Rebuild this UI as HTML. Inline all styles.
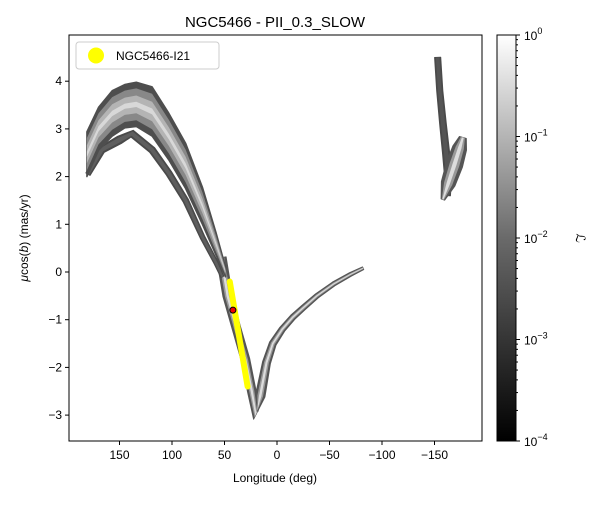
<!DOCTYPE html>
<html><head><meta charset="utf-8"><style>
body{margin:0;background:#fff;font-family:"Liberation Sans",sans-serif}
text{font-family:"Liberation Sans","DejaVu Sans",sans-serif;fill:#000}
</style></head><body>
<svg id="chart" width="600" height="500">
<defs>
<linearGradient id="cb" x1="0" y1="1" x2="0" y2="0">
<stop offset="0" stop-color="#000"/><stop offset="0.5" stop-color="#6a6a6a"/><stop offset="1" stop-color="#fff"/>
</linearGradient>
<clipPath id="pc"><rect x="69" y="35" width="413" height="406"/></clipPath>
</defs>
<text x="275" y="27" font-size="15" text-anchor="middle">NGC5466 - PII_0.3_SLOW</text>
<g id="marks" clip-path="url(#pc)"></g>
<rect x="69" y="35" width="413" height="406" fill="none" stroke="#000" stroke-width="1"/>
<g id="axes"></g>
<text x="275" y="482" font-size="12" text-anchor="middle">Longitude (deg)</text>
<text transform="translate(28,238) rotate(-90)" font-size="12" text-anchor="middle"><tspan font-style="italic">μ</tspan>cos(<tspan font-style="italic">b</tspan>) (mas/yr)</text>
<g>
<rect x="76" y="42" width="143" height="27" rx="3" fill="#fff" stroke="#ccc"/>
<circle cx="96" cy="55.5" r="8" fill="#ff0"/>
<text x="116" y="60" font-size="12">NGC5466-I21</text>
</g>
<rect x="497" y="35" width="19" height="406" fill="url(#cb)" stroke="#000" stroke-width="1"/>
<g id="cbticks"></g>
<text transform="translate(576,238) rotate(90)" font-size="13" font-style="italic" text-anchor="middle">ℒ</text>
</svg>
<script>
const xTicks=[150,100,50,0,-50,-100,-150];
const yTicks=[-3,-2,-1,0,1,2,3,4];
const cbExps=[0,-1,-2,-3,-4];
// upper trailing arm: top and bottom edges
const armLon=[181,170,157,145,134,119,103,87,71,58,49];
const armTop=[2.94,3.45,3.8,3.93,3.98,3.88,3.33,2.7,1.78,0.82,0.1];
const armBot=[2.0,2.55,2.85,3.02,3.05,2.85,2.35,1.75,1.0,0.35,-0.1];
// lower trailing arm
const lowLon=[180,167,150,138,119,103,87,71,58,52];
const lowMu=[2.05,2.56,2.77,2.9,2.56,2.07,1.5,0.73,0.19,-0.1];
const lowW=[0.1,0.15,0.17,0.15,0.14,0.13,0.12,0.1,0.09,0.07];
// central + leading stream centerline
const mainLon=[53,47,39,30,24,20,16,10,4,-5,-15,-25,-38,-54,-70,-82];
const mainMu=[0.3,-0.5,-1.15,-1.84,-2.5,-3.0,-2.6,-1.9,-1.5,-1.2,-0.95,-0.75,-0.5,-0.25,-0.05,0.08];
const mainW=[0.2,0.2,0.18,0.18,0.18,0.2,0.2,0.17,0.15,0.13,0.12,0.11,0.1,0.09,0.08,0.06];
const streakLon=[-153,-155,-158,-161,-163,-162];
const streakMu=[4.5,3.8,3.12,2.5,2.07,1.6];
const streakW=[0.13,0.13,0.14,0.15,0.16,0.14];
const blobLon=[-158,-163,-169,-174,-177];
const blobMu=[1.52,1.85,2.25,2.6,2.82];
const blobW=[0.08,0.3,0.35,0.3,0.15];
const progLon=[45,28];
const progMu=[-0.2,-2.4];
const progPointLon=[42];
const progPointMu=[-0.8];
const X=l=>277-1.05*l, Y=v=>272-47.7*v;
const NS='http://www.w3.org/2000/svg';
function mk(t,a,p){const e=document.createElementNS(NS,t);for(const k in a)e.setAttribute(k,a[k]);p.appendChild(e);return e;}
const marks=document.getElementById('marks');
function poly(L,M,W,f){
 const P=L.map((l,i)=>[X(l),Y(M[i])]);const left=[],right=[];
 for(let i=0;i<P.length;i++){const a=P[Math.max(0,i-1)],b=P[Math.min(P.length-1,i+1)];
  let dx=b[0]-a[0],dy=b[1]-a[1];const n=Math.hypot(dx,dy)||1;dx/=n;dy/=n;
  const s=W[i]*f*47.7/2;
  left.push([P[i][0]-dy*s,P[i][1]+dx*s]);right.push([P[i][0]+dy*s,P[i][1]-dx*s]);}
 return left.concat(right.reverse()).map(p=>p[0].toFixed(1)+','+p[1].toFixed(1)).join(' ');
}
function band(L,M,W,name,cols){
 const g=mk('g',{},marks);
 
 
 mk('polygon',{points:poly(L,M,W,1),fill:cols[0],stroke:cols[0],"stroke-width":1,"stroke-linejoin":'round'},g);
 if(cols[1])mk('polygon',{points:poly(L,M,W,0.6),fill:cols[1]},g);
 if(cols[2])mk('polygon',{points:poly(L,M,W,0.25),fill:cols[2]},g);
}
function edgePoly(L,T,B,f){
 const top=L.map((l,i)=>{const c=(T[i]+B[i])/2,h=(T[i]-B[i])/2*f;return X(l).toFixed(1)+','+Y(c+h).toFixed(1);});
 const bot=L.map((l,i)=>{const c=(T[i]+B[i])/2,h=(T[i]-B[i])/2*f;return X(l).toFixed(1)+','+Y(c-h).toFixed(1);}).reverse();
 return top.concat(bot).join(' ');
}
band(mainLon,mainMu,mainW,'central-leading-stream',['#555','#999','#dcdcdc']);
band(lowLon,lowMu,lowW,'lower-trailing-arm',['#4a4a4a','#5e5e5e']);
const arm=mk('g',{},marks);


mk('polygon',{points:edgePoly(armLon,armTop,armBot,1),fill:'#4e4e4e',stroke:'#4e4e4e',"stroke-width":1.5,"stroke-linejoin":'round'},arm);
mk('polygon',{points:edgePoly(armLon,armTop,armBot,0.72),fill:'#888'},arm);
mk('polygon',{points:edgePoly(armLon,armTop,armBot,0.4),fill:'#b4b4b4'},arm);
mk('polygon',{points:edgePoly(armLon,armTop,armBot,0.12),fill:'#d8d8d8'},arm);
band(streakLon,streakMu,streakW,'far-streak',['#4a4a4a','#555']);
band(blobLon,blobMu,blobW,'far-blob',['#555','#999','#ddd']);
const pl=mk('line',{x1:X(progLon[0]),y1:Y(progMu[0]),x2:X(progLon[1]),y2:Y(progMu[1]),stroke:'#ff0',"stroke-width":6,"stroke-linecap":'round'},marks);


const pp=mk('circle',{cx:X(progPointLon[0]),cy:Y(progPointMu[0]),r:3,fill:'#e00',stroke:'#000'},marks);


const ax=document.getElementById('axes');
xTicks.forEach(t=>{const x=X(t);mk('line',{x1:x,x2:x,y1:441,y2:445,stroke:'#000'},ax);
 const tx=mk('text',{x:x,y:459,"font-size":12,"text-anchor":'middle'},ax);tx.textContent=t<0?'\u2212'+(-t):t;
 
 });
yTicks.forEach(t=>{const y=Y(t);mk('line',{x1:65,x2:69,y1:y,y2:y,stroke:'#000'},ax);
 const tx=mk('text',{x:62,y:y+4,"font-size":12,"text-anchor":'end'},ax);tx.textContent=t<0?'\u2212'+(-t):t;
 
 });
const cg=document.getElementById('cbticks');
const CY=e=>35+(-e)*101.5;
cbExps.forEach(e=>{const y=CY(e);mk('line',{x1:516,x2:520,y1:y,y2:y,stroke:'#000'},cg);
 const tx=mk('text',{x:524,y:y+5,"font-size":12},cg);
 
 
 tx.innerHTML='10<tspan dy="-6" font-size="9">'+(e<0?'\u2212'+(-e):e)+'</tspan>';
 if(e>-4)for(let m=2;m<10;m++){const yy=CY(e-1+Math.log10(m));mk('line',{x1:516,x2:518,y1:yy,y2:yy,stroke:'#000'},cg);}
});
</script>
</body></html>
